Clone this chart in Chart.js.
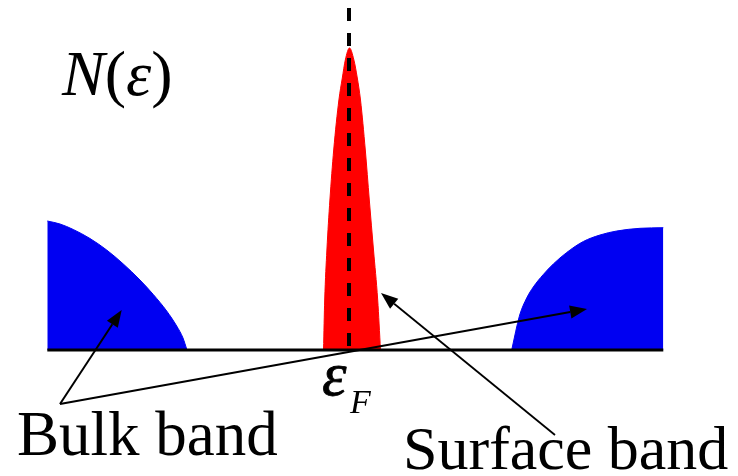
<!DOCTYPE html>
<html>
<head>
<meta charset="utf-8">
<title>N(ε) – bulk and surface bands</title>
<script src="https://cdn.jsdelivr.net/npm/chart.js@4/dist/chart.umd.min.js"></script>
<style>
  html, body { margin: 0; padding: 0; background: #ffffff; }
  #wrap { position: relative; width: 738px; height: 476px; }
</style>
</head>
<body>
<div id="wrap"><canvas id="dos"></canvas></div>
<script>
// Energy measured from the Fermi level (arbitrary units), density of states N in arbitrary units.

// Lower bulk band
const bulkLowE = [-302.2, -289.5, -276.2, -259.5, -242.8, -226.2, -209.5, -196.2, -182.8, -172.8, -166.5, -162.5];
const bulkLowN = [129, 126, 120.5, 111.5, 100, 86, 70, 55.5, 39, 24, 12, 0];

// Upper bulk band
const bulkHighE = [162.2, 165.0, 167.2, 170.5, 177.2, 183.8, 193.8, 203.8, 217.2, 233.8, 250.5, 267.2, 290.5, 313.8];
const bulkHighN = [0, 13, 23, 36, 52, 63, 75.5, 86, 97.5, 108.5, 115, 119, 121.7, 122.3];

// Narrow surface band pinned at the Fermi level
const surfaceE = [-26.0, -24.8, -22.6, -19.6, -15.8, -10.6, -7.2, -4.2, 0, 4.4, 7.8, 11.0, 15.8, 19.8, 24.0, 28.2, 31.0];
const surfaceN = [0, 50, 100, 150, 200, 250, 272, 290, 302, 290, 272, 250, 200, 150, 100, 50, 0];

// Fermi level marker and energy axis
const fermiE = [-0.5, -0.5];
const fermiN = [342, 0];
const axisE = [-302.2, 313.8];
const axisN = [0, 0];

// Visible window
const energyRange = [-349.5, 388.5];
const dosRange = [-126, 350];

// Annotation text and arrows (data coordinates)
const bulkLabel = 'Bulk band';
const surfaceLabel = 'Surface band';
const bulkArrowFrom = [-289.5, -54];
const bulkArrowTips = [[-227.8, 40], [237.5, 41]];
const surfaceArrowFrom = [205.5, -85];
const surfaceArrowTip = [31.5, 57];

const pts = (xs, ys) => xs.map((x, i) => ({ x: x, y: ys[i] }));

const BLUE = '#0000f2';
const RED = '#ff0000';
const SERIF = '"Liberation Serif", "Times New Roman", serif';

function arrow(ctx, x0, y0, x1, y1, lw) {
  const ang = Math.atan2(y1 - y0, x1 - x0);
  const len = 17, half = 6.5;
  const bx = x1 - len * Math.cos(ang), by = y1 - len * Math.sin(ang);
  ctx.lineWidth = lw;
  ctx.beginPath();
  ctx.moveTo(x0, y0);
  ctx.lineTo(bx, by);
  ctx.stroke();
  ctx.beginPath();
  ctx.moveTo(x1, y1);
  ctx.lineTo(bx + half * Math.sin(ang), by - half * Math.cos(ang));
  ctx.lineTo(bx - half * Math.sin(ang), by + half * Math.cos(ang));
  ctx.closePath();
  ctx.fill();
}

const annotations = {
  id: 'annotations',
  afterDatasetsDraw(chart) {
    const ctx = chart.ctx;
    const sx = chart.scales.x, sy = chart.scales.y;
    const px = v => sx.getPixelForValue(v);
    const py = v => sy.getPixelForValue(v);
    ctx.save();
    ctx.fillStyle = '#000';
    ctx.strokeStyle = '#000';
    ctx.lineCap = 'butt';

    // arrows
    const fx = px(bulkArrowFrom[0]), fy = py(bulkArrowFrom[1]);
    bulkArrowTips.forEach(t => arrow(ctx, fx, fy, px(t[0]), py(t[1]), 2));
    arrow(ctx, px(surfaceArrowFrom[0]), py(surfaceArrowFrom[1]), px(surfaceArrowTip[0]), py(surfaceArrowTip[1]), 1.8);

    ctx.textBaseline = 'alphabetic';
    ctx.textAlign = 'left';

    // N(ε) axis label
    let x = px(-287.5);
    const yN = py(255);
    const parts = [['N', 'italic'], ['(', 'normal'], ['ε', 'italic'], [')', 'normal']];
    parts.forEach(([s, st]) => {
      ctx.font = st + ' 64px ' + SERIF;
      ctx.fillText(s, x, yN);
      x += ctx.measureText(s).width;
    });

    // ε_F under the Fermi level
    ctx.font = 'italic 62px ' + SERIF;
    ctx.lineWidth = 0.8;
    ctx.fillText('ε', px(-27.5), py(-45));
    ctx.strokeText('ε', px(-27.5), py(-45));
    ctx.font = 'italic 34px ' + SERIF;
    ctx.fillText('F', px(0.5), py(-63));

    // band labels
    ctx.font = '63px ' + SERIF;
    ctx.fillText(bulkLabel, px(-332.5), py(-105));
    ctx.font = '62px ' + SERIF;
    ctx.fillText(surfaceLabel, px(53.5), py(-119));
    ctx.restore();
  }
};

new Chart(document.getElementById('dos'), {
  type: 'line',
  data: {
    datasets: [
      { data: pts(fermiE, fermiN), borderColor: '#000', borderWidth: 4, borderDash: [13, 12],
        borderCapStyle: 'butt', pointRadius: 0, fill: false, tension: 0, order: 0 },
      { data: pts(axisE, axisN), borderColor: '#000', borderWidth: 3, pointRadius: 0,
        fill: false, tension: 0, order: 1 },
      { data: pts(surfaceE, surfaceN), borderColor: RED, borderWidth: 1, backgroundColor: RED,
        pointRadius: 0, fill: 'origin', cubicInterpolationMode: 'monotone', order: 2 },
      { data: pts(bulkLowE, bulkLowN), borderColor: BLUE, borderWidth: 1, backgroundColor: BLUE,
        pointRadius: 0, fill: 'origin', cubicInterpolationMode: 'monotone', order: 3 },
      { data: pts(bulkHighE, bulkHighN), borderColor: BLUE, borderWidth: 1, backgroundColor: BLUE,
        pointRadius: 0, fill: 'origin', cubicInterpolationMode: 'monotone', order: 3 }
    ]
  },
  options: {
    responsive: true,
    maintainAspectRatio: false,
    animation: false,
    layout: { padding: 0 },
    events: [],
    plugins: { legend: { display: false }, tooltip: { enabled: false } },
    scales: {
      x: { type: 'linear', min: energyRange[0], max: energyRange[1], display: false },
      y: { type: 'linear', min: dosRange[0], max: dosRange[1], display: false }
    }
  },
  plugins: [annotations]
});
</script>
</body>
</html>
